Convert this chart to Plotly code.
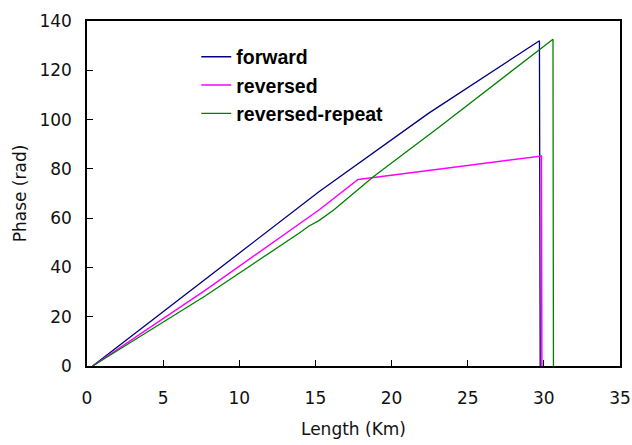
import plotly.graph_objects as go

# Data
forward_x = [0.37, 7.78, 15.23, 22.42, 29.71, 29.76]
forward_y = [0, 35.3, 70.7, 102.5, 132.0, 0]

reversed_x = [0.37, 7.78, 15.23, 17.8, 23.07, 29.84, 29.87]
reversed_y = [0, 30.8, 63.3, 75.7, 79.8, 85.2, 0]

repeat_x = [0.37, 7.78, 13.92, 14.58, 15.23, 16.2, 18.8, 23.07, 30.26, 30.6, 30.63]
repeat_y = [0, 28.5, 53.9, 56.8, 59.0, 63.3, 76.8, 96.7, 131.0, 132.6, 0]

x_ticks = [0, 5, 10, 15, 20, 25, 30, 35]
y_ticks = [0, 20, 40, 60, 80, 100, 120, 140]

fig = go.Figure()
fig.add_trace(go.Scatter(x=forward_x, y=forward_y, mode="lines", name="forward",
                         line=dict(color="#000080", width=1.3)))
fig.add_trace(go.Scatter(x=reversed_x, y=reversed_y, mode="lines", name="reversed",
                         line=dict(color="#FF00FF", width=1.5)))
fig.add_trace(go.Scatter(x=repeat_x, y=repeat_y, mode="lines", name="reversed-repeat",
                         line=dict(color="#008000", width=1.3)))

axis_font = dict(family="DejaVu Sans", size=17, color="#111111")

fig.update_layout(
    width=632, height=445,
    margin=dict(l=87, r=12, t=21, b=79, autoexpand=False),
    paper_bgcolor="white", plot_bgcolor="white",
    font=axis_font,
    showlegend=True,
    legend=dict(x=0.205, y=0.952, xanchor="left", yanchor="top",
                bgcolor="rgba(0,0,0,0)", borderwidth=0,
                font=dict(family="Liberation Sans", size=19.5, color="black", weight="bold"),
                itemwidth=30),
    xaxis=dict(range=[0, 35], tickvals=x_ticks, ticktext=[str(v) for v in x_ticks],
               showgrid=False, zeroline=False, showline=True, linecolor="black", linewidth=1.5,
               mirror=True, ticks="inside", ticklen=6, tickwidth=1, tickcolor="black",
               ticklabelstandoff=16, automargin=False,
               title=dict(text="Length (Km)", font=axis_font, standoff=16),
               tickfont=axis_font),
    yaxis=dict(range=[0, 140], tickvals=y_ticks, ticktext=[str(v) for v in y_ticks],
               showgrid=False, zeroline=False, showline=True, linecolor="black", linewidth=1.5,
               mirror=True, ticks="inside", ticklen=6, tickwidth=1, tickcolor="black",
               ticklabelstandoff=10, automargin=False,
               title=dict(text="Phase (rad)", font=axis_font, standoff=8),
               tickfont=axis_font),
)

fig.write_html("out.html")
